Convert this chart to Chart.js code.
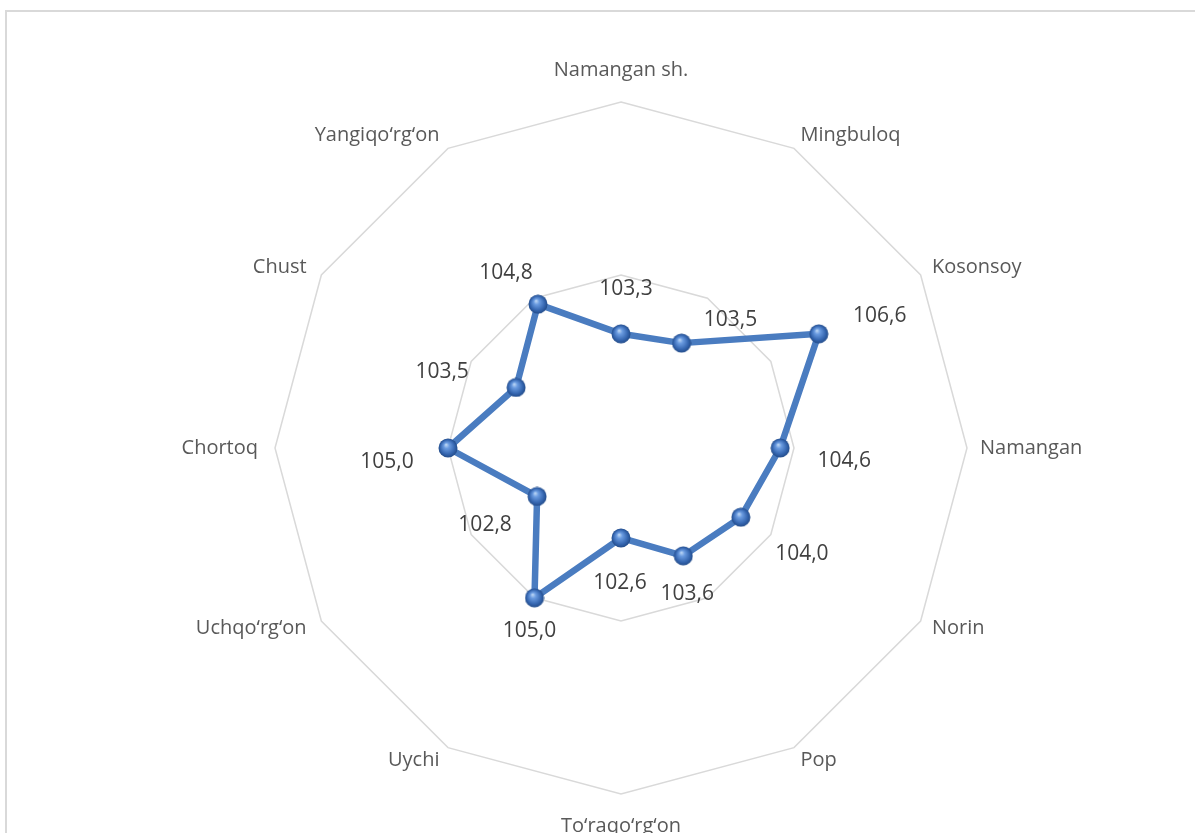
<!DOCTYPE html>
<html>
<head>
<meta charset="utf-8">
<script src="https://cdn.jsdelivr.net/npm/chart.js@4"></script>
<style>
  html, body { margin: 0; padding: 0; background: #fff; overflow: hidden; }
  #frame { position: absolute; left: 5px; top: 10px; width: 1300px; height: 1000px; border: 2px solid #d9d9d9; }
  #wrap { position: absolute; left: 0; top: 0; width: 1195px; height: 833px; }
</style>
</head>
<body>
<div id="frame"></div>
<div id="wrap"><canvas id="radar" width="1195" height="833"></canvas></div>
<script>
// ===== Date =====
const regions = [
  "Namangan sh.", "Mingbuloq", "Kosonsoy", "Namangan", "Norin", "Pop",
  "To‘raqo‘rg‘on", "Uychi", "Uchqo‘rg‘on", "Chortoq", "Chust", "Yangiqo‘rg‘on"
];
const growth = [103.3, 103.5, 106.6, 104.6, 104.0, 103.6, 102.6, 105.0, 102.8, 105.0, 103.5, 104.8];
const axisMin = 100;
const axisMax = 110;
const axisStep = 5;

// poziția etichetelor de valoare față de punct (px)
const labelShift = [
  [5, -45], [49, -23], [61, -18], [64, 13], [61, 37], [4, 38],
  [-1, 45], [-5, 33], [-52, 29], [-61, 14], [-74, -15], [-32, -31]
];

// ===== Marker sferic (efect 3D ca în Excel) =====
function makeSphere(size) {
  const c = document.createElement("canvas");
  c.width = size; c.height = size;
  const g = c.getContext("2d");
  const r = size / 2 - 0.5;
  const grad = g.createRadialGradient(size * 0.4, size * 0.33, 0, size / 2, size / 2, r);
  grad.addColorStop(0, "#c4dcf7");
  grad.addColorStop(0.3, "#6a9be0");
  grad.addColorStop(0.75, "#3566b0");
  grad.addColorStop(1, "#234c8a");
  g.fillStyle = grad;
  g.beginPath();
  g.arc(size / 2, size / 2, r, 0, Math.PI * 2);
  g.fill();
  return c;
}
const sphere = makeSphere(20);

const fmt = v => v.toFixed(1).replace(".", ",");

// ===== Etichete categorii (stil Excel) =====
const categoryLabels = {
  id: "categoryLabels",
  afterDraw(chart) {
    const scale = chart.scales.r;
    const ctx = chart.ctx;
    ctx.save();
    ctx.font = '20px "Open Sans"';
    ctx.fillStyle = "#595959";
    ctx.textBaseline = "middle";
    regions.forEach((name, i) => {
      const a = scale.getIndexAngle(i);
      const v = scale.getPointPosition(i, scale.drawingArea);
      const s = Math.sin(a), c = Math.cos(a);
      let x, y;
      if (Math.abs(s) < 0.01) {
        ctx.textAlign = "center";
        x = v.x;
        y = v.y - Math.sign(c) * 32;
      } else {
        ctx.textAlign = s > 0 ? "left" : "right";
        x = v.x + s * (s > 0 ? 13 : 17);
        y = v.y - c * 15;
      }
      ctx.fillText(name, x, y);
    });
    ctx.restore();
  }
};

// ===== Etichete valori =====
const valueLabels = {
  id: "valueLabels",
  afterDatasetsDraw(chart) {
    const meta = chart.getDatasetMeta(0);
    const ctx = chart.ctx;
    ctx.save();
    ctx.font = '21px "Open Sans"';
    ctx.fillStyle = "#404040";
    ctx.textAlign = "center";
    ctx.textBaseline = "middle";
    meta.data.forEach((pt, i) => {
      const [dx, dy] = labelShift[i];
      ctx.fillText(fmt(growth[i]), pt.x + dx, pt.y + dy);
    });
    ctx.restore();
  }
};

new Chart(document.getElementById("radar"), {
  type: "radar",
  data: {
    labels: regions,
    datasets: [{
      data: growth,
      borderColor: "#4a7cc0",
      borderWidth: 6.5,
      borderJoinStyle: "round",
      fill: false,
      pointStyle: sphere,
      pointRadius: 10,
      pointHoverRadius: 10
    }]
  },
  options: {
    responsive: false,
    animation: false,
    layout: { padding: { left: 221, right: 174, top: 102, bottom: 39 } },
    plugins: { legend: { display: false }, tooltip: { enabled: false } },
    scales: {
      r: {
        min: axisMin,
        max: axisMax,
        ticks: { display: false, stepSize: axisStep },
        angleLines: { display: false },
        grid: { color: "#d9d9d9", lineWidth: 1.5 },
        pointLabels: { display: false }
      }
    }
  },
  plugins: [categoryLabels, valueLabels]
});
</script>
</body>
</html>
